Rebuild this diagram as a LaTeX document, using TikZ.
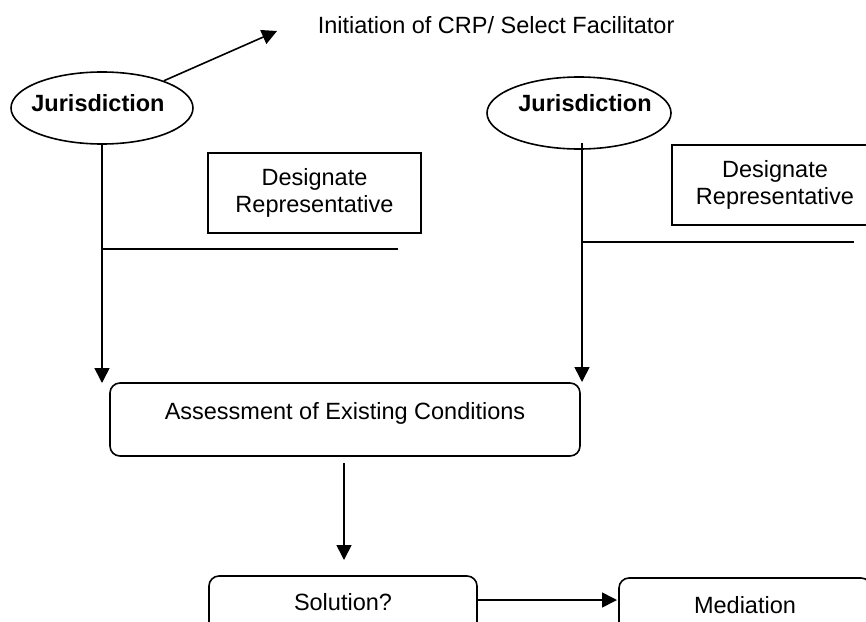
\documentclass[tikz,border=0pt]{standalone}
\usepackage{fontspec}
\setmainfont{Liberation Sans}
\usetikzlibrary{shapes.geometric,arrows.meta}
\begin{document}
\begin{tikzpicture}[x=1pt,y=-1pt,
  line width=1.6pt,
  every node/.style={font=\fontsize{23.5}{27.5}\selectfont, inner sep=0pt},
  ell/.style={draw, ellipse, minimum width=182pt, minimum height=72pt},
  boldtxt/.style={font=\fontsize{23.5}{27.5}\selectfont\bfseries},
  sqbox/.style={draw, rectangle, align=center},
  rbox/.style={draw, rectangle, rounded corners=10pt, minimum height=73pt},
  arr/.style={-{Triangle[length=15pt,width=15pt]}},
]
\useasboundingbox (0,0) rectangle (866,621);
\clip (0,0) rectangle (866,621);

% top text
\node[anchor=west] (init) at (317,25) {Initiation of CRP/ Select Facilitator};
\coordinate (initarr) at (277,31);

% left jurisdiction
\node[ell] (j1) at (102,108) {};
\node[boldtxt] (j1t) at (98,103) {Jurisdiction};
\draw[arr] (j1) -- (initarr);

% right jurisdiction
\node[ell, minimum width=184pt] (j2) at (579,113) {};
\node[boldtxt] (j2t) at (585,103) {Jurisdiction};

% designate boxes
\node[sqbox, minimum width=213pt, minimum height=80pt] (d1) at (314.5,193) {Designate\\Representative};
\node[sqbox, minimum width=206pt, minimum height=80pt] (d2) at (775,185) {Designate\\Representative};

% assessment box
\node[rbox, minimum width=470pt] (asm) at (345,419.5) {};
\node[anchor=base] (asmt) at (345,419.5) {Assessment of Existing Conditions};

% solution and mediation
\node[rbox, minimum width=268pt] (sol) at (343,612.5) {};
\node[anchor=base] (solt) at (343,610) {Solution?};
\node[rbox, minimum width=252pt] (med) at (745,614.5) {};
\node[anchor=base] (medt) at (745,613) {Mediation};

% left vertical and horizontal
\coordinate (a1) at (102,383);
\draw[arr] (j1.south) -- (a1);
\coordinate (h1s) at (102,249);
\coordinate (h1e) at (398,249);
\draw (h1s) -- (h1e);

% right vertical and horizontal
\coordinate (v2s) at (582,143);
\coordinate (a2) at (582,382);
\draw[arr] (v2s) -- (a2);
\coordinate (h2s) at (582,242);
\coordinate (h2e) at (854,242);
\draw (h2s) -- (h2e);

% assessment to solution
\coordinate (s1) at (344,463);
\coordinate (s2) at (344,560);
\draw[arr] (s1) -- (s2);

% solution to mediation
\coordinate (m1) at (sol.east |- 0,600);
\coordinate (m2) at (617,600);
\draw[arr] (m1) -- (m2);
\end{tikzpicture}
\end{document}
